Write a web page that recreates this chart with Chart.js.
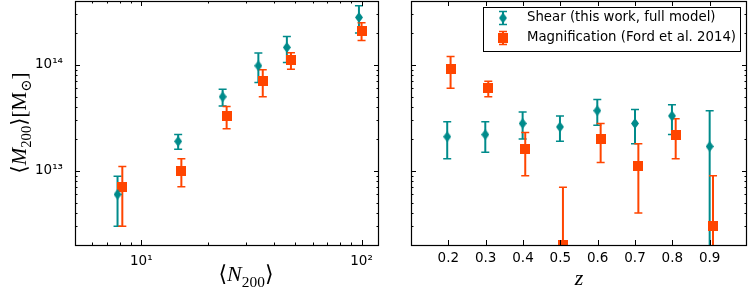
<!DOCTYPE html>
<html>
<head>
<meta charset="utf-8">
<script src="https://cdn.jsdelivr.net/npm/chart.js@4.4.1/dist/chart.umd.min.js"></script>
<style>
  html, body { margin: 0; padding: 0; background: #fff; }
  #wrap { position: relative; width: 748px; height: 289px; }
  #left { position: absolute; left: 0; top: 0; }
  #right { position: absolute; left: 390px; top: 0; }
</style>
</head>
<body>
<div id="wrap">
  <canvas id="left" width="390" height="289"></canvas>
  <canvas id="right" width="358" height="289"></canvas>
</div>
<script>
// left panel: mass vs richness
const shearN = [7.8, 14.7, 23.4, 34.0, 45.8, 97.3];
const shearM = [6.0e12, 1.9e13, 5.0e13, 9.8e13, 1.46e14, 2.8e14];
const shearMLo = [3.0e12, 1.6e13, 4.1e13, 6.8e13, 1.05e14, 2.0e14];
const shearMHi = [8.9e12, 2.2e13, 5.9e13, 1.29e14, 1.85e14, 3.6e14];
const magN = [8.2, 15.2, 24.4, 35.6, 47.8, 100];
const magM = [7.0e12, 1.0e13, 3.3e13, 7.0e13, 1.1e14, 2.1e14];
const magMLo = [3.0e12, 7.1e12, 2.5e13, 5.0e13, 9.1e13, 1.7e14];
const magMHi = [1.1e13, 1.3e13, 4.05e13, 9.0e13, 1.3e14, 2.5e14];

// right panel: mass vs redshift
const shearZ = [0.197, 0.299, 0.399, 0.499, 0.599, 0.7, 0.799, 0.9];
const shearZM = [2.1e13, 2.2e13, 2.8e13, 2.6e13, 3.7e13, 2.8e13, 3.3e13, 1.7e13];
const shearZLo = [1.3e13, 1.5e13, 2.0e13, 1.9e13, 2.7e13, 1.8e13, 2.2e13, 1e11];
const shearZHi = [2.9e13, 2.9e13, 3.6e13, 3.3e13, 4.7e13, 3.8e13, 4.2e13, 3.7e13];
const magZ = [0.206, 0.307, 0.406, 0.507, 0.608, 0.709, 0.809, 0.909];
const magZM = [9.1e13, 6.0e13, 1.6e13, 2.0e12, 2.0e13, 1.1e13, 2.2e13, 3.0e12];
const magZLo = [6.0e13, 5.0e13, 9.0e12, 1e11, 1.2e13, 4.0e12, 1.3e13, 1e11];
const magZHi = [1.2e14, 7.0e13, 2.3e13, 7.0e12, 2.8e13, 1.8e13, 3.1e13, 9.0e12];

const legendLabels = ['Shear (this work, full model)', 'Magnification (Ford et al. 2014)'];
const zTicks = [0.2, 0.3, 0.4, 0.5, 0.6, 0.7, 0.8, 0.9];

const TEAL = '#008b8b';
const ORANGE = '#ff4500';
const TICK_FONT = { family: '"DejaVu Sans", sans-serif', size: 13.5 };
const SERIF = '"Liberation Serif", "DejaVu Serif", "DejaVu Sans", serif';

function makeMarker(kind, color) {
    const c = document.createElement('canvas');
    const g = c.getContext('2d');
    if (kind === 'diamond') {
        c.width = 8; c.height = 11;
        g.fillStyle = color;
        g.beginPath();
        g.moveTo(4, 0); g.lineTo(8, 5.5); g.lineTo(4, 11); g.lineTo(0, 5.5);
        g.closePath(); g.fill();
    } else {
        c.width = 10; c.height = 10;
        g.fillStyle = color;
        g.fillRect(0, 0, 10, 10);
    }
    return c;
}
const diamond = makeMarker('diamond', TEAL);
const square = makeMarker('square', ORANGE);

const SUP = '⁰¹²³⁴⁵⁶⁷⁸⁹';
function powLabel(v) {
    const e = Math.log10(v);
    if (Math.abs(e - Math.round(e)) > 1e-6) return '';
    return '10' + String(Math.round(e)).split('').map(d => SUP[+d]).join('');
}

function points(xs, ys) {
    return xs.map((x, i) => ({ x, y: ys[i] }));
}

function series(label, xs, ys, lo, hi, color, marker) {
    return {
        label,
        data: points(xs, ys),
        errLo: lo,
        errHi: hi,
        color,
        pointStyle: marker,
        pointRadius: 5,
        backgroundColor: color,
        borderColor: color,
        clip: 0
    };
}

// fixed box size for a scale, no extra layout padding
function fixSize(w, h) {
    return s => {
        if (w !== null) s.width = w;
        if (h !== null) s.height = h;
        s.paddingTop = 0; s.paddingBottom = 0; s.paddingLeft = 0; s.paddingRight = 0;
    };
}

// tick values for a scale: log scales get 1..9 per decade, linear use chart ticks
function tickList(scale) {
    const out = [];
    if (scale.type === 'logarithmic') {
        const e0 = Math.floor(Math.log10(scale.min));
        const e1 = Math.ceil(Math.log10(scale.max));
        for (let e = e0; e <= e1; e++) {
            for (let m = 1; m <= 9; m++) {
                const v = m * Math.pow(10, e);
                if (v > scale.min * 1.0001 && v < scale.max * 0.9999) out.push({ p: scale.getPixelForValue(v), major: m === 1 });
            }
        }
    } else {
        scale.ticks.forEach(t => {
            if (t.value > scale.min + 1e-9 && t.value < scale.max - 1e-9) out.push({ p: scale.getPixelForValue(t.value), major: true });
        });
    }
    return out;
}

const frameTicks = {
    id: 'frameTicks',
    afterDatasetsDraw(chart) {
        const { ctx, chartArea: a, scales } = chart;
        ctx.save();
        ctx.strokeStyle = '#000';
        ctx.lineWidth = 1;
        ctx.beginPath();
        tickList(scales.x).forEach(t => {
            const len = t.major ? 5 : 2.5;
            const x = Math.round(t.p) + 0.5;
            ctx.moveTo(x, a.bottom); ctx.lineTo(x, a.bottom - len);
            ctx.moveTo(x, a.top); ctx.lineTo(x, a.top + len);
        });
        tickList(scales.y).forEach(t => {
            const len = t.major ? 5 : 2.5;
            const y = Math.round(t.p) + 0.5;
            ctx.moveTo(a.left, y); ctx.lineTo(a.left + len, y);
            ctx.moveTo(a.right, y); ctx.lineTo(a.right - len, y);
        });
        ctx.stroke();
        ctx.lineWidth = 1.2;
        ctx.strokeRect(a.left + 0.5, a.top + 0.5, a.right - a.left - 1, a.bottom - a.top);
        ctx.restore();
    }
};

function drawErrorBar(ctx, x, yTop, yBot, color) {
    ctx.strokeStyle = color;
    ctx.lineWidth = 2;
    ctx.beginPath();
    ctx.moveTo(x, yTop); ctx.lineTo(x, yBot);
    ctx.stroke();
    ctx.lineWidth = 1.5;
    ctx.beginPath();
    ctx.moveTo(x - 4, yTop); ctx.lineTo(x + 4, yTop);
    ctx.moveTo(x - 4, yBot); ctx.lineTo(x + 4, yBot);
    ctx.stroke();
}

const errorBars = {
    id: 'errorBars',
    beforeDatasetsDraw(chart) {
        const { ctx, chartArea: a, scales: { x, y } } = chart;
        ctx.save();
        ctx.beginPath();
        ctx.rect(a.left, a.top, a.right - a.left, a.bottom - a.top);
        ctx.clip();
        chart.data.datasets.forEach(ds => {
            ds.data.forEach((pt, i) => {
                const px = x.getPixelForValue(pt.x);
                drawErrorBar(ctx, px, y.getPixelForValue(ds.errHi[i]), y.getPixelForValue(ds.errLo[i]), ds.color);
            });
        });
        ctx.restore();
    }
};

// draws a label made of pieces: [text, style] with style n / i / s (subscript) / si
function drawRich(ctx, parts, cx, baseline, size) {
    const fontOf = st => {
        const small = st.indexOf('s') >= 0;
        return (st.indexOf('i') >= 0 ? 'italic ' : '') + (small ? size * 0.7 : size) + 'px ' + SERIF;
    };
    const widths = parts.map(p => { ctx.font = fontOf(p[1]); return ctx.measureText(p[0]).width; });
    const total = widths.reduce((s, w) => s + w, 0);
    let x = cx - total / 2;
    ctx.textAlign = 'left';
    ctx.textBaseline = 'alphabetic';
    parts.forEach((p, i) => {
        ctx.font = fontOf(p[1]);
        ctx.fillText(p[0], x, baseline + (p[1].indexOf('s') >= 0 ? size * 0.25 : 0));
        x += widths[i];
    });
}

const leftTitles = {
    id: 'leftTitles',
    afterDraw(chart) {
        const ctx = chart.ctx;
        ctx.save();
        ctx.fillStyle = '#000';
        drawRich(ctx, [['⟨', 'n'], ['N', 'i'], ['200', 's'], ['⟩', 'n']], 246, 281, 22);
        ctx.translate(26, (chart.chartArea.top + chart.chartArea.bottom) / 2);
        ctx.rotate(-Math.PI / 2);
        drawRich(ctx, [['⟨', 'n'], ['M', 'i'], ['200', 's'], ['⟩', 'n'], ['[', 'n'], ['M', 'n'], ['⊙', 's'], [']', 'n']], 0, 0, 21);
        ctx.restore();
    }
};

const rightDecor = {
    id: 'rightDecor',
    afterDraw(chart) {
        const { ctx, chartArea: a } = chart;
        ctx.save();
        ctx.fillStyle = '#000';
        drawRich(ctx, [['z', 'i']], (a.left + a.right) / 2, 285, 22);

        // legend box
        const bx = 93.5, by = 7.5, bw = 257, bh = 44;
        ctx.fillStyle = '#fff';
        ctx.fillRect(bx, by, bw, bh);
        ctx.strokeStyle = '#000';
        ctx.lineWidth = 1;
        ctx.strokeRect(bx, by, bw, bh);
        const rows = [
            { label: legendLabels[0], color: TEAL, marker: diamond, y: 18 },
            { label: legendLabels[1], color: ORANGE, marker: square, y: 38 }
        ];
        ctx.font = '13.3px "DejaVu Sans", sans-serif';
        ctx.textBaseline = 'middle';
        ctx.textAlign = 'left';
        rows.forEach(r => {
            drawErrorBar(ctx, 113, r.y - 6.5, r.y + 6.5, r.color);
            ctx.drawImage(r.marker, 113 - r.marker.width / 2, r.y - r.marker.height / 2);
            ctx.fillStyle = '#000';
            ctx.fillText(r.label, 137, r.y);
        });
        ctx.restore();
    }
};

function logAxis(min, max, pad, fit) {
    return {
        type: 'logarithmic',
        min, max,
        grid: { display: false, drawTicks: false },
        border: { display: false },
        ticks: { autoSkip: false, maxRotation: 0, color: '#000', font: TICK_FONT, padding: pad, callback: v => powLabel(v) },
        afterFit: fit
    };
}

new Chart(document.getElementById('left'), {
    type: 'scatter',
    data: {
        datasets: [
            series(legendLabels[0], shearN, shearM, shearMLo, shearMHi, TEAL, diamond),
            series(legendLabels[1], magN, magM, magMLo, magMHi, ORANGE, square)
        ]
    },
    options: {
        responsive: false,
        animation: false,
        layout: { autoPadding: false, padding: { top: 1, right: 11, bottom: 0, left: 0 } },
        plugins: { legend: { display: false }, tooltip: { enabled: false } },
        scales: {
            x: logAxis(5, 120, 8, fixSize(null, 44)),
            y: logAxis(2e12, 4e14, 12, fixSize(75, null))
        }
    },
    plugins: [errorBars, frameTicks, leftTitles]
});

const rightY = logAxis(2e12, 4e14, 0, fixSize(21, null));
rightY.ticks.display = false;

new Chart(document.getElementById('right'), {
    type: 'scatter',
    data: {
        datasets: [
            series(legendLabels[0], shearZ, shearZM, shearZLo, shearZHi, TEAL, diamond),
            series(legendLabels[1], magZ, magZM, magZLo, magZHi, ORANGE, square)
        ]
    },
    options: {
        responsive: false,
        animation: false,
        layout: { autoPadding: false, padding: { top: 1, right: 1, bottom: 0, left: 0 } },
        plugins: { legend: { display: false }, tooltip: { enabled: false } },
        scales: {
            x: {
                type: 'linear',
                min: 0.1, max: 1.0,
                grid: { display: false, drawTicks: false },
                border: { display: false },
                afterBuildTicks: s => { s.ticks = zTicks.map(v => ({ value: v })); },
                ticks: { autoSkip: false, maxRotation: 0, color: '#000', font: TICK_FONT, padding: 5, callback: v => v.toFixed(1) },
                afterFit: fixSize(null, 44)
            },
            y: rightY
        }
    },
    plugins: [errorBars, frameTicks, rightDecor]
});
</script>
</body>
</html>
